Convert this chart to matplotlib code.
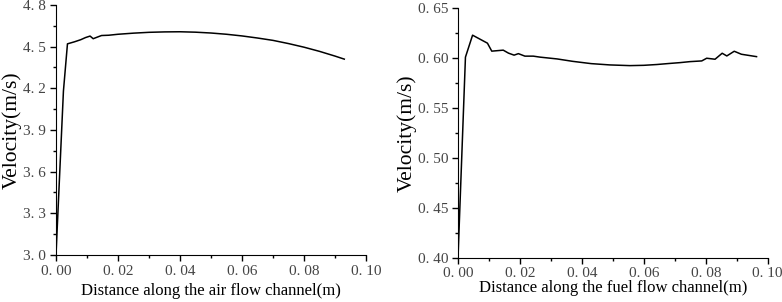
import matplotlib
matplotlib.use("Agg")
import matplotlib.pyplot as plt
from matplotlib.ticker import MultipleLocator, FuncFormatter

# air flow channel
air_x = [0.0, 0.0024, 0.0037, 0.006, 0.008, 0.0095, 0.011, 0.012, 0.0135, 0.0147,
         0.017, 0.020, 0.025, 0.030, 0.035, 0.040, 0.045, 0.050, 0.055, 0.060,
         0.065, 0.070, 0.075, 0.080, 0.085, 0.090, 0.093]
air_v = [3.0, 4.18, 4.52, 4.535, 4.55, 4.565, 4.576, 4.557, 4.57, 4.58,
         4.582, 4.589, 4.597, 4.603, 4.606, 4.607, 4.604, 4.598, 4.589, 4.577,
         4.562, 4.545, 4.522, 4.496, 4.466, 4.432, 4.41]

# fuel flow channel
fuel_x = [0.0, 0.0024, 0.0047, 0.0095, 0.0109, 0.0146, 0.0163, 0.0181, 0.0195, 0.0216,
          0.0243, 0.0265, 0.032, 0.037, 0.043, 0.049, 0.0555, 0.060, 0.0642, 0.068,
          0.0717, 0.0749, 0.0787, 0.0803, 0.083, 0.0853, 0.0868, 0.0892, 0.0915, 0.0964]
fuel_v = [0.40, 0.601, 0.623, 0.615, 0.607, 0.608, 0.605, 0.603, 0.6045, 0.602,
          0.602, 0.601, 0.5992, 0.5968, 0.5945, 0.5932, 0.5925, 0.5928, 0.5936, 0.5946,
          0.5955, 0.5965, 0.5972, 0.5999, 0.5989, 0.6049, 0.6022, 0.6069, 0.6039, 0.6015]

plt.rcParams['font.family'] = ['Liberation Serif', 'DejaVu Serif']

fig = plt.figure(figsize=(7.82, 3.02), dpi=100)
ax1 = fig.add_axes([0.0716, 0.1556, 0.3964, 0.828])
ax2 = fig.add_axes([0.5857, 0.1467, 0.396, 0.826])


def fmt(nd):
    # tick labels drawn like "0. 00" as in the original
    return FuncFormatter(lambda v, p: (("%." + str(nd) + "f") % v).replace('.', '. '))


def style(ax, ymin, ymax, ystep, ynd):
    for s in ['top', 'right']:
        ax.spines[s].set_visible(False)
    ax.set_xlim(0, 0.1)
    ax.set_ylim(ymin, ymax)
    ax.xaxis.set_major_locator(MultipleLocator(0.02))
    ax.xaxis.set_minor_locator(MultipleLocator(0.01))
    ax.yaxis.set_major_locator(MultipleLocator(ystep))
    ax.yaxis.set_minor_locator(MultipleLocator(ystep / 2))
    ax.xaxis.set_major_formatter(fmt(2))
    ax.yaxis.set_major_formatter(fmt(ynd))
    ax.tick_params(which='major', direction='out', length=4, width=1,
                   labelsize=11, labelcolor='#444444', pad=3)
    ax.tick_params(which='minor', direction='out', length=2.5, width=1)
    ax.set_ylabel('Velocity(m/s)', fontsize=15.5, labelpad=1)


ax1.plot(air_x, air_v, color='black', lw=1.1)
style(ax1, 3.0, 4.8, 0.3, 1)
ax1.set_xlabel('Distance along the air flow channel(m)', fontsize=12, labelpad=4)

ax2.plot(fuel_x, fuel_v, color='black', lw=1.1)
style(ax2, 0.40, 0.65, 0.05, 2)
ax2.set_xlabel('Distance along the fuel flow channel(m)', fontsize=12, labelpad=0)

fig.savefig('out.png', dpi=100)
